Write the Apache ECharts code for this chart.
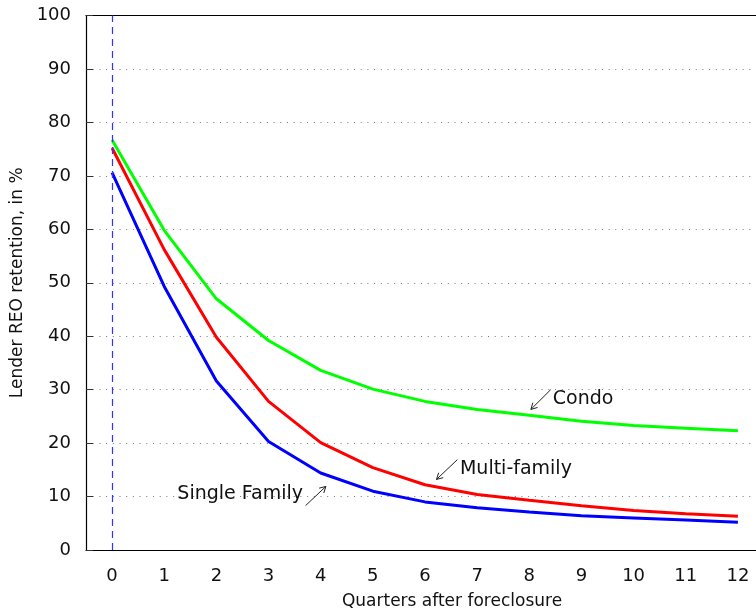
<!DOCTYPE html>
<html>
<head>
<meta charset="utf-8">
<script src="https://cdn.jsdelivr.net/npm/echarts@6/dist/echarts.min.js"></script>
<style>html,body{margin:0;padding:0;background:#fff;overflow:hidden}#c{width:764px;height:614px}</style>
</head>
<body>
<div id="c"></div>
<script>
const quarters = ['0','1','2','3','4','5','6','7','8','9','10','11','12'];
const condo = [76.7, 59.8, 47.0, 39.2, 33.6, 30.1, 27.8, 26.3, 25.2, 24.1, 23.3, 22.8, 22.3];
const multiFamily = [75.2, 56.2, 39.8, 27.8, 20.1, 15.4, 12.2, 10.4, 9.3, 8.3, 7.4, 6.8, 6.3];
const singleFamily = [70.6, 49.3, 31.6, 20.3, 14.4, 11.0, 9.0, 7.9, 7.1, 6.4, 6.0, 5.6, 5.2];
const yTicks = [0,10,20,30,40,50,60,70,80,90,100];
// annotations in data coordinates: [label, textAnchor, arrowFrom, arrowTo, align]
const annotations = [
  ['Condo', [8.45, 28.3], [8.41, 30.0], [8.03, 26.3], 'left'],
  ['Multi-family', [6.67, 15.2], [6.62, 16.9], [6.22, 13.2], 'left'],
  ['Single Family', [3.66, 10.4], [3.71, 8.3], [4.10, 11.9], 'right']
];

const FONT = 'DejaVu Sans';
const chart = echarts.init(document.getElementById('c'), null, {renderer: 'canvas'});
const lineStyle = (c) => ({color: c, width: 3});
chart.setOption({
  animation: false,
  textStyle: {fontFamily: FONT},
  grid: {left: 86, right: 0, top: 15.5, bottom: 64, containLabel: false, outerBoundsMode: 'none'},
  xAxis: [
    {type: 'category', data: quarters, boundaryGap: true, position: 'bottom',
     axisLine: {onZero: false, lineStyle: {color: '#000', width: 1.2}},
     axisTick: {inside: true, alignWithLabel: true, length: 5, lineStyle: {color: '#333'}},
     axisLabel: {color: '#111', fontSize: 18, margin: 17, fontFamily: FONT},
     name: 'Quarters after foreclosure', nameLocation: 'middle', nameGap: 43,
     nameTextStyle: {color: '#111', fontSize: 17, fontFamily: FONT, padding: [0, 0, 0, 54]},
     splitLine: {show: false}},
    {type: 'category', data: quarters, boundaryGap: true, position: 'top',
     axisLine: {onZero: false, lineStyle: {color: '#000', width: 1.2}},
     axisTick: {inside: true, alignWithLabel: true, length: 5, lineStyle: {color: '#333'}},
     axisLabel: {show: false}, splitLine: {show: false}},
    {type: 'value', min: -0.5, max: 12.5, show: false, splitLine: {show: false}}
  ],
  yAxis: {
    type: 'value', min: 0, max: 100, interval: 10,
    axisLine: {show: true, onZero: false, lineStyle: {color: '#000', width: 1.2}},
    axisTick: {show: true, inside: true, length: 7, lineStyle: {color: '#333'}},
    axisLabel: {color: '#111', fontSize: 18, margin: 15, fontFamily: FONT,
      formatter: (v) => yTicks.includes(v) ? String(v) : ''},
    splitLine: {show: true, lineStyle: {color: '#777', width: 1, type: [1, 5.7]}},
    name: 'Lender REO retention, in %', nameLocation: 'middle', nameGap: 60, nameRotate: 90,
    nameTextStyle: {color: '#111', fontSize: 17, fontFamily: FONT}
  },
  series: [
    {type: 'line', name: 'Single Family', data: singleFamily, xAxisIndex: 0, symbol: 'none',
     lineStyle: lineStyle('#0000ff'), z: 3,
     markLine: {silent: true, symbol: 'none', label: {show: false},
       lineStyle: {color: '#3333ff', width: 1.2, type: [7, 5]},
       data: [{xAxis: 0}]}},
    {type: 'line', name: 'Multi-family', data: multiFamily, xAxisIndex: 0, symbol: 'none',
     lineStyle: lineStyle('#ff0000'), z: 3},
    {type: 'line', name: 'Condo', data: condo, xAxisIndex: 0, symbol: 'none',
     lineStyle: lineStyle('#00ff00'), z: 3}
  ]
});

function drawAnnotations() {
  const els = [];
  const toPx = (p) => chart.convertToPixel({xAxisIndex: 2, yAxisIndex: 0}, p);
  annotations.forEach(([label, tpos, from, to, align]) => {
    const t = toPx(tpos), a = toPx(from), b = toPx(to);
    els.push({type: 'text', z: 10, style: {text: label, x: t[0], y: t[1], fill: '#111',
      font: '19px "' + FONT + '"', textAlign: align, textVerticalAlign: 'middle'}});
    const ang = Math.atan2(b[1] - a[1], b[0] - a[0]);
    const hl = 7, spread = 0.5;
    const h1 = [b[0] - hl * Math.cos(ang - spread), b[1] - hl * Math.sin(ang - spread)];
    const h2 = [b[0] - hl * Math.cos(ang + spread), b[1] - hl * Math.sin(ang + spread)];
    els.push({type: 'line', z: 10, shape: {x1: a[0], y1: a[1], x2: b[0], y2: b[1]},
      style: {stroke: '#222', lineWidth: 1}});
    els.push({type: 'polyline', z: 10, shape: {points: [h1, b, h2]},
      style: {stroke: '#222', lineWidth: 1, fill: null}});
  });
  chart.setOption({graphic: els});
}
drawAnnotations();
</script>
</body>
</html>
